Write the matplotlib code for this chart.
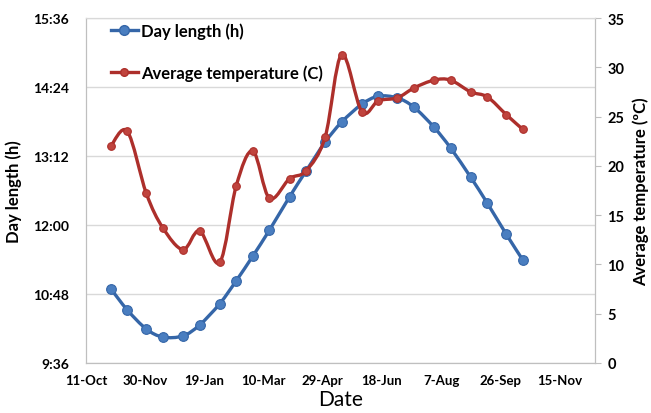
import datetime as dt

import numpy as np
import matplotlib
matplotlib.use('Agg')
import matplotlib.pyplot as plt
import matplotlib.dates as mdates
from matplotlib.path import Path
from matplotlib.patches import PathPatch
from matplotlib.lines import Line2D
from matplotlib.ticker import FuncFormatter, MultipleLocator

plt.rcParams['font.family'] = ['Lato', 'DejaVu Sans']

# dates: 1st and 15th of each month, Nov to Oct
dates = []
for m in list(range(11, 13)) + list(range(1, 11)):
    y = 2012 if m >= 11 else 2013
    dates.append(dt.date(y, m, 1))
    dates.append(dt.date(y, m, 15))

# day length in hours
day_length = [10.89, 10.52, 10.19, 10.05, 10.07, 10.26, 10.63, 11.03,
              11.46, 11.91, 12.49, 12.94, 13.44, 13.79, 14.10, 14.24,
              14.21, 14.05, 13.70, 13.34, 12.83, 12.38, 11.84, 11.39]

# average temperature (C)
temperature = [22.0, 23.5, 17.2, 13.7, 11.5, 13.4, 10.2, 18.0,
               21.5, 16.7, 18.7, 19.5, 22.9, 31.3, 25.5, 26.6,
               26.9, 27.9, 28.7, 28.7, 27.5, 27.0, 25.2, 23.7]

blue_line = '#3566a8'
blue_mark = '#4a7ec0'
red_line = '#ad2f2b'
red_mark = '#c0443e'


def courbe_lisse(x, y):
    """Courbe de Bezier lissee passant par les points (style Excel)."""
    x = np.asarray(x, float)
    y = np.asarray(y, float)
    n = len(x)
    verts = [(x[0], y[0])]
    codes = [Path.MOVETO]
    for i in range(n - 1):
        i0 = max(i - 1, 0)
        i3 = min(i + 2, n - 1)
        c1 = (x[i] + (x[i + 1] - x[i0]) / 6, y[i] + (y[i + 1] - y[i0]) / 6)
        c2 = (x[i + 1] - (x[i3] - x[i]) / 6, y[i + 1] - (y[i3] - y[i]) / 6)
        verts += [c1, c2, (x[i + 1], y[i + 1])]
        codes += [Path.CURVE4] * 3
    return Path(verts, codes)


def hmm(v, pos):
    h = int(v)
    m = int(round((v - h) * 60))
    if m == 60:
        h, m = h + 1, 0
    return '%d:%02d' % (h, m)


xnum = mdates.date2num(dates)

fig = plt.figure(figsize=(6.51, 4.14), dpi=100)
ax = fig.add_axes([0.132, 0.121, 0.782, 0.833])
ax2 = ax.twinx()

ax.add_patch(PathPatch(courbe_lisse(xnum, day_length), fill=False,
                       edgecolor=blue_line, lw=2.4, zorder=3))
ax.plot(xnum, day_length, 'o', ms=7, color=blue_mark,
        mec=blue_line, mew=0.8, zorder=4)

ax2.add_patch(PathPatch(courbe_lisse(xnum, temperature), fill=False,
                        edgecolor=red_line, lw=2.4, zorder=3))
ax2.plot(xnum, temperature, 'o', ms=5.5, color=red_mark,
         mec=red_line, mew=0.8, zorder=4)

x0 = mdates.date2num(dt.date(2012, 10, 11))
ax.set_xlim(x0, mdates.date2num(dt.date(2013, 12, 15)))
ticks = [x0 + 50 * k for k in range(9)]
ax.set_xticks(ticks)
ax.xaxis.set_major_formatter(FuncFormatter(
    lambda v, p: '%d-%s' % (mdates.num2date(v).day,
                            mdates.num2date(v).strftime('%b'))))

ax.set_ylim(9.6, 15.6)
ax.yaxis.set_major_locator(MultipleLocator(1.2))
ax.yaxis.set_major_formatter(FuncFormatter(hmm))
ax.grid(axis='y', color='#d9d9d9', lw=1)
ax.set_axisbelow(True)

ax2.set_ylim(0, 35)
ax2.yaxis.set_major_locator(MultipleLocator(5))

for a in (ax, ax2):
    for s in a.spines.values():
        s.set_color('#bfbfbf')
    a.spines['top'].set_color('#d9d9d9')

ax.tick_params(axis='y', length=0, pad=12, labelsize=10)
ax.tick_params(axis='x', length=0, pad=8, labelsize=9.5)
ax2.tick_params(axis='y', length=4, color='#bfbfbf', pad=5, labelsize=10.5)
for lab in ax.get_xticklabels() + ax.get_yticklabels():
    lab.set_fontweight('bold')
for lab in ax2.get_yticklabels():
    lab.set_fontweight('bold')

ax.set_ylabel('Day length (h)', fontsize=12, fontweight='bold', labelpad=8)
ax2.set_ylabel('Average temperature (\u00baC)', fontsize=12,
               fontweight='bold', labelpad=6)
ax.set_xlabel('Date', fontsize=15, labelpad=2)

handles = [Line2D([], [], color=blue_line, lw=2.4, marker='o', ms=7,
                  mfc=blue_mark, mec=blue_line),
           Line2D([], [], color=red_line, lw=2.4, marker='o', ms=5.5,
                  mfc=red_mark, mec=red_line)]
leg = ax2.legend(handles, ['Day length (h)', 'Average temperature (C)'],
                 loc='upper left', bbox_to_anchor=(0.02, 1.03), frameon=False,
                 prop={'size': 12, 'weight': 'bold'}, handlelength=1.6,
                 handletextpad=0.2, labelspacing=1.5)

fig.savefig('out.png', dpi=100)
